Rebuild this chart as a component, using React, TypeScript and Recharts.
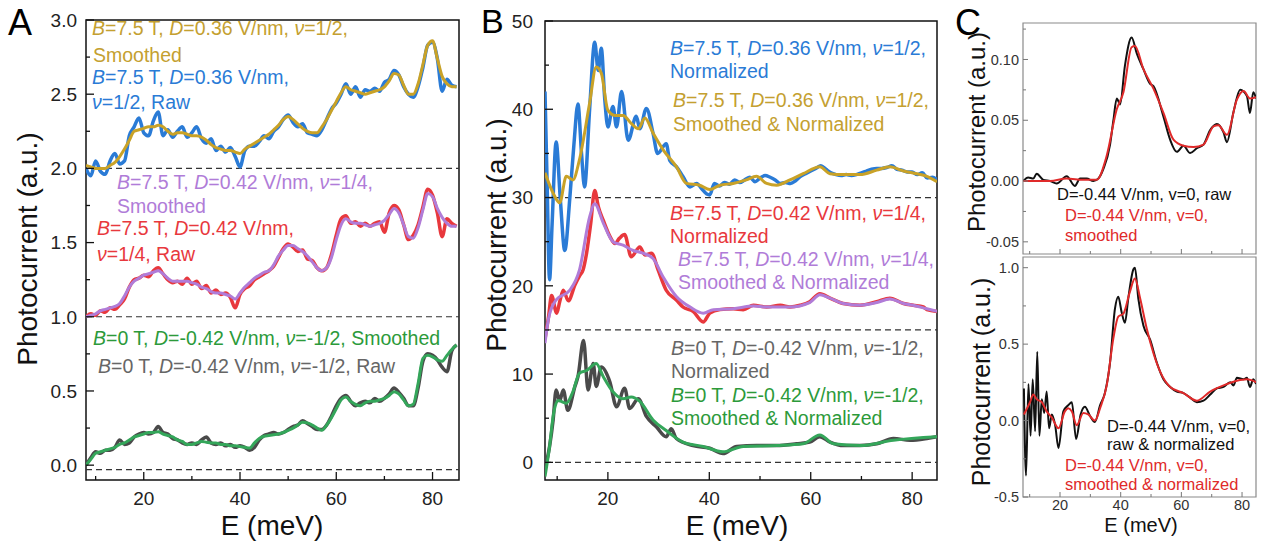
import React from 'react';
import { LineChart, Line, XAxis, YAxis, ReferenceLine, ReferenceArea } from 'recharts';

const FONT = '"Liberation Sans", Arial, Helvetica, sans-serif';

// ---------------- Panel A data ----------------
const A_E = [8,9,10,11,12,13,14,15,16,17,18,19,20,21,22,23,24,25,26,27,28,29,30,31,32,33,34,35,36,37,38,39,40,41,42,43,44,45,46,47,48,49,50,51,52,53,54,55,56,57,58,59,60,61,62,63,64,65,66,67,68,69,70,71,72,73,74,75,76,77,78,79,80,81,82,83,84,85];
const A_BLUE_RAW = [2.00,1.95,2.05,1.98,1.96,2.05,2.10,2.03,2.05,2.22,2.28,2.34,2.24,2.22,2.32,2.38,2.22,2.26,2.21,2.25,2.28,2.21,2.24,2.28,2.20,2.17,2.20,2.12,2.15,2.11,2.14,2.08,2.01,2.12,2.15,2.15,2.18,2.22,2.20,2.25,2.28,2.33,2.36,2.31,2.28,2.30,2.24,2.23,2.22,2.26,2.33,2.40,2.44,2.50,2.57,2.50,2.55,2.48,2.53,2.52,2.54,2.52,2.58,2.60,2.66,2.63,2.55,2.50,2.48,2.55,2.68,2.83,2.85,2.74,2.52,2.60,2.56,2.55];
const A_GOLD_SM = [2.02,2.01,2.00,2.00,2.00,2.02,2.04,2.08,2.13,2.19,2.25,2.26,2.27,2.28,2.28,2.29,2.28,2.25,2.23,2.24,2.24,2.23,2.22,2.22,2.21,2.19,2.16,2.14,2.13,2.12,2.12,2.11,2.10,2.13,2.15,2.17,2.19,2.21,2.23,2.26,2.29,2.33,2.35,2.33,2.30,2.27,2.25,2.24,2.24,2.28,2.33,2.39,2.45,2.51,2.55,2.53,2.52,2.51,2.50,2.51,2.52,2.53,2.55,2.59,2.64,2.63,2.56,2.50,2.50,2.57,2.70,2.83,2.86,2.74,2.62,2.57,2.55,2.55];
const A_RED_RAW = [1.00,1.02,1.01,1.04,1.03,1.06,1.05,1.08,1.12,1.20,1.25,1.26,1.28,1.27,1.31,1.33,1.29,1.25,1.23,1.24,1.22,1.26,1.22,1.24,1.19,1.21,1.16,1.18,1.15,1.16,1.13,1.06,1.15,1.19,1.21,1.25,1.27,1.29,1.31,1.34,1.40,1.46,1.49,1.47,1.44,1.45,1.39,1.38,1.33,1.31,1.33,1.42,1.55,1.66,1.68,1.63,1.64,1.61,1.63,1.61,1.63,1.64,1.57,1.70,1.75,1.72,1.62,1.52,1.55,1.62,1.74,1.86,1.82,1.70,1.54,1.66,1.63,1.61];
const A_PURPLE_SM = [1.00,1.01,1.02,1.04,1.05,1.06,1.07,1.09,1.14,1.20,1.24,1.26,1.28,1.29,1.30,1.31,1.29,1.26,1.24,1.24,1.24,1.24,1.23,1.22,1.20,1.19,1.17,1.16,1.16,1.15,1.14,1.12,1.16,1.20,1.23,1.26,1.28,1.30,1.31,1.35,1.41,1.45,1.48,1.48,1.46,1.44,1.41,1.37,1.33,1.31,1.33,1.40,1.52,1.62,1.66,1.64,1.63,1.63,1.62,1.61,1.62,1.63,1.65,1.69,1.73,1.70,1.62,1.54,1.53,1.60,1.72,1.83,1.81,1.73,1.67,1.63,1.61,1.61];
const A_GRAY_RAW = [0.00,0.05,0.09,0.08,0.10,0.10,0.12,0.17,0.14,0.15,0.19,0.21,0.22,0.21,0.22,0.26,0.22,0.21,0.18,0.17,0.15,0.14,0.15,0.14,0.17,0.19,0.15,0.14,0.15,0.13,0.14,0.12,0.13,0.12,0.10,0.12,0.17,0.20,0.21,0.22,0.21,0.22,0.24,0.26,0.27,0.30,0.28,0.26,0.24,0.24,0.27,0.33,0.40,0.45,0.47,0.43,0.40,0.42,0.43,0.42,0.45,0.43,0.45,0.48,0.52,0.49,0.45,0.40,0.40,0.52,0.70,0.75,0.74,0.71,0.66,0.63,0.77,0.81];
const A_GREEN_SM = [0.00,0.04,0.08,0.09,0.10,0.11,0.12,0.14,0.15,0.17,0.19,0.20,0.21,0.22,0.22,0.225,0.21,0.20,0.19,0.17,0.16,0.14,0.14,0.15,0.16,0.155,0.15,0.15,0.14,0.14,0.13,0.13,0.125,0.12,0.115,0.15,0.18,0.195,0.20,0.205,0.21,0.22,0.235,0.25,0.27,0.29,0.285,0.27,0.25,0.235,0.27,0.32,0.38,0.44,0.46,0.43,0.41,0.40,0.42,0.43,0.43,0.44,0.45,0.47,0.495,0.48,0.44,0.40,0.41,0.55,0.72,0.74,0.73,0.71,0.70,0.74,0.78,0.81];
const A_BASELINES = [2.0, 1.0, -0.03];

// ---------------- Panel B data ----------------
const B_BLUE_E = [7.6,8.0,8.5,9.0,9.8,10.6,11.5,12.5,13.3,14.1,14.8,15.4,16.4,17.4,18.1,18.7,19.4,20.0,21.0,21.7,22.7,24.0,25.6,26.3,27.6,28.9,29.8,31.5,32.2,33.5,34.8,36.2,37.5,38.5,39.5,40.1,41,42,43,44,45,46,47,48,49,50,51,52,53,54,55,56,57,58,59,60,61,62,63,64,65,66,67,68,69,70,71,72,73,74,75,76,77,78,79,80,81,82,83,84,84.9];
const B_BLUE = [42,32,20.7,27,36.3,30,24.0,30,36,40.6,35,31.2,40,47.6,44.4,46.9,41,38.0,40.3,38.0,42.0,36.5,39.2,37.8,40.1,37.3,35,36.1,34.2,33.5,32.4,31.2,31.6,31.0,30.4,30.3,31.6,31.3,31.7,31.5,32.0,31.7,32.0,32.3,31.8,32.2,32.5,32.3,32.0,31.6,31.7,31.6,31.9,32.4,32.7,33.0,33.3,33.6,33.2,32.8,32.6,32.5,32.6,32.5,32.6,32.8,33.0,33.2,33.3,33.3,33.4,33.6,33.2,33.1,32.9,32.9,32.6,32.8,32.2,32.3,32.0];
const B_GOLD_E = [7.6,9.2,10.5,11.8,13.1,14.4,16.4,17.7,18.7,20.0,21.4,23.0,24.6,26.0,27.3,28.9,30.9,33.5,35.5,38.1,40.1,42.1,44.7,47.3,49.3,51.3,53.3,55.9,58.5,61.8,63.8,66.4,69.7,73.0,75.6,78.3,80.9,82.9,84.9];
const B_GOLD = [32.8,30.5,29.4,32.4,32.0,34.3,40.7,44.8,44.1,39.9,39.3,39.3,38.4,37.8,39.0,37.3,35.4,33.5,31.6,31.4,30.9,31.4,31.6,32.0,32.4,31.6,31.4,32.0,32.7,33.5,32.7,32.6,32.6,33.1,33.5,33.0,32.7,32.4,31.8];
const B_RED_E = [7.6,8.3,8.9,9.9,10.5,11.2,12.2,13.5,14.5,15.1,15.8,16.6,17.4,18.1,19.1,20.4,21.4,22.3,23.3,24.6,26.3,27.3,28.6,29.9,31.5,33.5,34.8,36.8,38.8,40.1,42.1,44.7,46.7,48.7,51.3,54.0,55.9,57.9,59.8,61.8,63.8,66.4,69.7,73.0,75.6,78.3,80.2,82.2,82.9,84.9];
const B_RED = [14.0,16.5,18.9,16.9,18.2,19.5,18.3,20.1,21.2,21.8,23.7,27.0,30.8,29.0,27.4,25.6,24.8,25.4,25.8,23.3,24.4,23.5,23.7,21.8,19.5,18.4,17.6,17.1,15.9,16.9,17.3,17.4,17.3,17.8,17.6,17.8,17.6,17.8,18.2,19.1,18.6,18.0,17.8,18.2,18.6,18.0,17.8,17.6,17.3,17.1];
const B_PURPLE_E = [7.6,8.3,9.8,12.5,14.4,16.4,17.4,19.1,21.0,23.0,25.0,26.9,28.9,30.9,33.5,36.2,38.8,40.8,44.7,48.7,51.3,55.9,59.8,61.8,63.8,66.4,69.7,73.0,75.6,78.3,80.2,82.9,84.9];
const B_PURPLE = [13.5,16.3,18.4,19.5,21.8,27.8,29.3,27.1,25.0,24.6,24.0,23.7,23.1,21.0,18.8,17.6,16.9,17.3,17.4,17.7,17.6,17.6,18.1,19.0,18.6,18.0,17.8,18.1,18.5,18.0,17.8,17.4,17.1];
const B_GRAY_E = [7.9,8.5,9.2,9.8,10.5,11.2,12.1,13.5,14.1,15.2,16.1,17.1,17.7,18.7,20.4,21.7,23.3,24.3,26.0,27.6,29.6,31.5,32.5,33.5,36.8,40.1,42.7,45.4,49.3,53.3,57.2,59.8,61.8,63.8,66.4,69.7,73.0,76.3,79.6,82.9,84.9];
const B_GRAY = [0,1.8,4.8,8.2,7.0,8.2,5.9,8.6,9.7,13.8,8.2,11.2,8.6,10.8,9.1,6.3,8.4,6.1,7.2,5.2,4.0,2.9,3.8,2.7,1.9,1.6,1.0,1.8,1.9,1.9,2.1,2.3,2.9,2.3,1.9,1.9,2.1,2.7,2.5,2.7,2.9];
const B_GREEN_E = [7.6,8.5,9.2,10.2,11.8,13.1,14.4,15.8,17.7,19.1,21.0,23.0,24.6,26.3,28.9,31.5,34.8,38.8,42.7,46.7,53.3,58.5,61.8,64.5,69.7,76.3,84.9];
const B_GREEN = [-1.6,1.8,5.2,7.0,6.7,8.0,10.1,10.4,11.2,9.7,8.0,7.2,7.4,6.9,4.8,3.6,2.3,1.8,1.2,1.8,1.9,2.1,3.1,2.1,1.9,2.5,2.9];
const B_BASELINES = [30, 15, 0];

// ---------------- Panel C data ----------------
const CT_RAW_E = [7.9,9.5,11.2,12.3,14.5,16.7,18.9,22.2,24.9,26.6,28.8,31.0,32.6,34.3,36.5,37.6,38.7,39.8,41.4,43.6,45.3,47.5,49.7,50.8,54.1,56.3,58.5,60.7,62.9,65.1,67.3,69.5,71.7,73.9,75.0,77.2,79.4,81.6,82.6,83.7,84.6];
const CT_RAW = [0.000,0.003,0.002,0.006,0.001,0.000,-0.002,0.004,-0.004,0.002,0.002,0.000,0.002,0.010,0.030,0.050,0.068,0.063,0.095,0.118,0.105,0.092,0.080,0.078,0.053,0.034,0.024,0.029,0.023,0.027,0.030,0.042,0.047,0.040,0.032,0.057,0.075,0.070,0.056,0.073,0.068];
const CT_SM_E = [7.9,16.7,22.2,27.7,32.1,35.4,38.7,40.9,43.6,44.7,47.5,50.8,54.1,57.4,60.7,64.0,67.3,70.6,72.2,75.0,78.3,80.5,82.6,84.6];
const CT_SM = [0.000,0.000,0.002,0.001,0.001,0.021,0.059,0.073,0.110,0.111,0.092,0.076,0.056,0.034,0.029,0.028,0.030,0.045,0.046,0.038,0.067,0.074,0.068,0.069];
const CB_RAW_E = [8.1,8.8,9.6,10.3,11.0,11.8,12.5,13.2,14.0,14.8,15.6,16.4,17.3,18.4,19.5,21.1,22.7,23.9,25.3,26.8,28.2,29.9,31.5,33.2,34.8,36.5,38.1,39.2,40.3,41.4,42.5,44.2,44.7,45.8,47.5,49.7,51.9,54.1,56.3,58.5,60.7,62.9,65.1,67.3,69.5,71.7,73.9,76.1,77.2,78.3,80.5,81.6,82.6,83.7,84.6];
const CB_RAW = [0.21,-0.36,0.24,-0.10,0.27,-0.07,0.45,-0.10,0.14,0.05,0.19,-0.05,0.04,-0.03,-0.18,0.06,0.10,0.12,-0.12,0.04,0.09,0.03,-0.01,0.10,0.18,0.38,0.73,0.81,0.71,0.64,0.80,0.99,1.00,0.80,0.62,0.53,0.38,0.27,0.22,0.19,0.18,0.15,0.12,0.13,0.17,0.21,0.22,0.25,0.23,0.28,0.27,0.28,0.22,0.27,0.24];
const CB_SM_E = [8.1,10.1,11.2,12.3,14.0,15.6,17.3,19.5,21.6,22.7,23.9,25.5,27.7,29.3,31.5,33.2,35.4,37.6,39.2,40.9,43.0,44.7,46.4,48.6,50.8,53.0,56.3,60.7,65.1,69.5,73.9,78.3,81.6,84.8];
const CB_SM = [0.04,0.12,0.17,0.14,0.12,0.06,0.02,-0.05,0.06,0.08,0.06,-0.03,0.05,0.04,0.00,0.08,0.23,0.54,0.68,0.70,0.84,0.93,0.80,0.60,0.44,0.32,0.22,0.18,0.13,0.19,0.23,0.26,0.27,0.25];

// ---------------- ticks ----------------
const E_TICKS = [10,20,30,40,50,60,70,80];
const E_MAJOR = [20,40,60,80];
const E_LABELS = ['20','40','60','80'];
const A_Y_TICKS = [0,0.25,0.5,0.75,1,1.25,1.5,1.75,2,2.25,2.5,2.75,3];
const A_Y_MAJOR = [0,0.5,1,1.5,2,2.5,3];
const A_Y_LABELS = ['0.0','0.5','1.0','1.5','2.0','2.5','3.0'];
const B_Y_TICKS = [0,5,10,15,20,25,30,35,40,45,50];
const B_Y_MAJOR = [0,10,20,30,40,50];
const B_Y_LABELS = ['0','10','20','30','40','50'];
const CT_Y_TICKS = [-0.05,-0.025,0,0.025,0.05,0.075,0.1,0.125];
const CT_Y_MAJOR = [-0.05,0,0.05,0.1];
const CT_Y_LABELS = ['-0.05','0.00','0.05','0.10'];
const CB_Y_TICKS = [-0.5,-0.25,0,0.25,0.5,0.75,1];
const CB_Y_MAJOR = [-0.5,0,0.5,1];
const CB_Y_LABELS = ['-0.5','0.0','0.5','1.0'];

// ---------------- colors ----------------
const BLUE = '#2a7bd6';
const GOLD = '#c9a227';
const RED = '#e8383d';
const PURPLE = '#b07cd8';
const GREEN = '#34a65a';
const GREEN_T = '#2c9a3a';
const GRAY = '#4a4a4a';
const GRAY_T = '#666666';
const GOLD_T = '#c4a030';

const zip = (xs: number[], ys: number[]) => xs.map((e, i) => ({ e, v: ys[i] }));

type TickCfg = {
  margin: number; majorLen: number; minorLen: number; fontSize: number;
  tickColor: string; textColor: string; showLabels: boolean; tickWidth: number;
};

function makeTick(kind: 'x' | 'y', major: number[], labels: string[], cfg: TickCfg) {
  return (props: any) => {
    const { x, y, payload } = props;
    const val = Number(payload.value);
    const idx = major.findIndex((m) => Math.abs(m - val) < 1e-9);
    const isMajor = idx >= 0;
    const len = isMajor ? cfg.majorLen : cfg.minorLen;
    if (kind === 'y') {
      const x0 = x + cfg.margin;
      return (
        <g>
          <line x1={x0} y1={y} x2={x0 + len} y2={y} stroke={cfg.tickColor} strokeWidth={cfg.tickWidth} />
          {isMajor && cfg.showLabels ? (
            <text x={x} y={y} dy="0.36em" textAnchor="end" fontSize={cfg.fontSize} fontFamily={FONT} fill={cfg.textColor}>
              {labels[idx]}
            </text>
          ) : null}
        </g>
      );
    }
    const y0 = y - cfg.margin;
    return (
      <g>
        <line x1={x} y1={y0} x2={x} y2={y0 - len} stroke={cfg.tickColor} strokeWidth={cfg.tickWidth} />
        {isMajor && cfg.showLabels ? (
          <text x={x} y={y} dy="0.72em" textAnchor="middle" fontSize={cfg.fontSize} fontFamily={FONT} fill={cfg.textColor}>
            {labels[idx]}
          </text>
        ) : null}
      </g>
    );
  };
}

type Series = { data: { e: number; v: number }[]; color: string; width: number };

type PanelProps = {
  left: number; top: number; width: number; height: number;
  margin: { top: number; right: number; bottom: number; left: number };
  yAxisWidth: number; xAxisHeight: number;
  xDomain: [number, number]; yDomain: [number, number];
  yTicks: number[]; yMajor: number[]; yLabels: string[];
  xLabelsShown: boolean;
  series: Series[]; baselines: number[];
  frameColor: string; frameWidth: number;
  xCfg: TickCfg; yCfg: TickCfg;
};

function Panel(p: PanelProps) {
  return (
    <div style={{ position: 'absolute', left: p.left, top: p.top }}>
      <LineChart width={p.width} height={p.height} margin={p.margin}>
        <XAxis
          type="number" dataKey="e" domain={p.xDomain} allowDataOverflow
          ticks={E_TICKS} interval={0} tickSize={0} tickMargin={p.xCfg.margin}
          axisLine={false} tickLine={false} height={p.xAxisHeight}
          tick={makeTick('x', E_MAJOR, E_LABELS, { ...p.xCfg, showLabels: p.xLabelsShown })}
        />
        <YAxis
          type="number" dataKey="v" domain={p.yDomain} allowDataOverflow
          ticks={p.yTicks} interval={0} tickSize={0} tickMargin={p.yCfg.margin}
          axisLine={false} tickLine={false} width={p.yAxisWidth}
          tick={makeTick('y', p.yMajor, p.yLabels, p.yCfg)}
        />
        {p.baselines.map((b, i) => (
          <ReferenceLine key={'b' + i} y={b} stroke="#333" strokeDasharray="6 4" strokeWidth={1.2} />
        ))}
        {p.series.map((s, i) => (
          <Line
            key={'s' + i} data={s.data} dataKey="v" type="monotone" stroke={s.color}
            strokeWidth={s.width} dot={false} activeDot={false} isAnimationActive={false}
          />
        ))}
        <ReferenceArea
          x1={p.xDomain[0]} x2={p.xDomain[1]} y1={p.yDomain[0]} y2={p.yDomain[1]}
          fill="none" fillOpacity={0} stroke={p.frameColor} strokeWidth={p.frameWidth} ifOverflow="visible"
        />
      </LineChart>
    </div>
  );
}

const AB_X: TickCfg = { margin: 11, majorLen: 8, minorLen: 4, fontSize: 19, tickColor: '#111', textColor: '#222', showLabels: true, tickWidth: 1.3 };
const A_Y: TickCfg = { margin: 9, majorLen: 8, minorLen: 4, fontSize: 19, tickColor: '#111', textColor: '#222', showLabels: true, tickWidth: 1.3 };
const B_Y: TickCfg = { margin: 12, majorLen: 8, minorLen: 4, fontSize: 19, tickColor: '#111', textColor: '#222', showLabels: true, tickWidth: 1.3 };
const C_X: TickCfg = { margin: 3, majorLen: 5, minorLen: 3, fontSize: 14.5, tickColor: '#777', textColor: '#333', showLabels: true, tickWidth: 1 };
const C_Y: TickCfg = { margin: 4, majorLen: 5, minorLen: 3, fontSize: 14.5, tickColor: '#777', textColor: '#333', showLabels: true, tickWidth: 1 };

type Note = { t: string; x: number; y: number; c: string };

const A_NOTES: Note[] = [
  { t: 'B=7.5 T, D=0.36 V/nm, ν=1/2,', x: 92, y: 35, c: GOLD_T },
  { t: 'Smoothed', x: 93, y: 62, c: GOLD_T },
  { t: 'B=7.5 T, D=0.36 V/nm,', x: 92, y: 84, c: BLUE },
  { t: 'ν=1/2, Raw', x: 92, y: 109, c: BLUE },
  { t: 'B=7.5 T, D=0.42 V/nm, ν=1/4,', x: 117, y: 189, c: PURPLE },
  { t: 'Smoothed', x: 117, y: 213, c: PURPLE },
  { t: 'B=7.5 T, D=0.42 V/nm,', x: 97, y: 235, c: RED },
  { t: 'ν=1/4, Raw', x: 97, y: 261, c: RED },
  { t: 'B=0 T, D=-0.42 V/nm, ν=-1/2, Smoothed', x: 93, y: 345, c: GREEN_T },
  { t: 'B=0 T, D=-0.42 V/nm, ν=-1/2, Raw', x: 98, y: 373, c: GRAY_T },
];
const B_NOTES: Note[] = [
  { t: 'B=7.5 T, D=0.36 V/nm, ν=1/2,', x: 670, y: 55, c: BLUE },
  { t: 'Normalized', x: 670, y: 78, c: BLUE },
  { t: 'B=7.5 T, D=0.36 V/nm, ν=1/2,', x: 673, y: 107, c: GOLD_T },
  { t: 'Smoothed & Normalized', x: 673, y: 131, c: GOLD_T },
  { t: 'B=7.5 T, D=0.42 V/nm, ν=1/4,', x: 670, y: 220, c: RED },
  { t: 'Normalized', x: 670, y: 243, c: RED },
  { t: 'B=7.5 T, D=0.42 V/nm, ν=1/4,', x: 678, y: 266, c: PURPLE },
  { t: 'Smoothed & Normalized', x: 678, y: 289, c: PURPLE },
  { t: 'B=0 T, D=-0.42 V/nm, ν=-1/2,', x: 671, y: 355, c: GRAY_T },
  { t: 'Normalized', x: 671, y: 378, c: GRAY_T },
  { t: 'B=0 T, D=-0.42 V/nm, ν=-1/2,', x: 671, y: 402, c: GREEN_T },
  { t: 'Smoothed & Normalized', x: 671, y: 425, c: GREEN_T },
];
const C_NOTES: Note[] = [
  { t: 'D=-0.44 V/nm, v=0, raw', x: 1057, y: 200, c: '#111' },
  { t: 'D=-0.44 V/nm, v=0,', x: 1065, y: 221, c: '#e02a2a' },
  { t: 'smoothed', x: 1065, y: 241, c: '#e02a2a' },
  { t: 'D=-0.44 V/nm, v=0,', x: 1107, y: 432, c: '#111' },
  { t: 'raw & normalized', x: 1107, y: 450, c: '#111' },
  { t: 'D=-0.44 V/nm, v=0,', x: 1065, y: 471, c: '#e02a2a' },
  { t: 'smoothed & normalized', x: 1065, y: 490, c: '#e02a2a' },
];

function NoteText({ n, size, italic }: { n: Note; size: number; italic: boolean }) {
  const parts = italic ? n.t.split(/([BDν](?==))/) : [n.t];
  return (
    <text x={n.x} y={n.y} fill={n.c} fontSize={size} fontFamily={FONT}>
      {parts.map((p, i) =>
        italic && /^[BDν]$/.test(p) ? (
          <tspan key={i} fontStyle="italic">{p}</tspan>
        ) : (
          <tspan key={i}>{p}</tspan>
        )
      )}
    </text>
  );
}

export default function App() {
  const aSeries: Series[] = [
    { data: zip(A_E, A_BLUE_RAW), color: BLUE, width: 3.5 },
    { data: zip(A_E, A_GOLD_SM), color: GOLD, width: 3 },
    { data: zip(A_E, A_RED_RAW), color: RED, width: 3.5 },
    { data: zip(A_E, A_PURPLE_SM), color: PURPLE, width: 3 },
    { data: zip(A_E, A_GRAY_RAW), color: GRAY, width: 3.5 },
    { data: zip(A_E, A_GREEN_SM), color: GREEN, width: 3 },
  ];
  const bSeries: Series[] = [
    { data: zip(B_BLUE_E, B_BLUE), color: BLUE, width: 3.5 },
    { data: zip(B_GOLD_E, B_GOLD), color: GOLD, width: 3 },
    { data: zip(B_RED_E, B_RED), color: RED, width: 3.5 },
    { data: zip(B_PURPLE_E, B_PURPLE), color: PURPLE, width: 3 },
    { data: zip(B_GRAY_E, B_GRAY), color: GRAY, width: 3.5 },
    { data: zip(B_GREEN_E, B_GREEN), color: GREEN, width: 3 },
  ];
  const ctSeries: Series[] = [
    { data: zip(CT_RAW_E, CT_RAW), color: '#111', width: 2 },
    { data: zip(CT_SM_E, CT_SM), color: '#e02a2a', width: 2 },
  ];
  const cbSeries: Series[] = [
    { data: zip(CB_RAW_E, CB_RAW), color: '#111', width: 2 },
    { data: zip(CB_SM_E, CB_SM), color: '#e02a2a', width: 2 },
  ];

  return (
    <div style={{ position: 'absolute', left: 0, top: 0, width: 1266, height: 548, background: '#fff', overflow: 'hidden' }}>
      <Panel
        left={0} top={0} width={480} height={548}
        margin={{ top: 20, right: 21, bottom: 0, left: 0 }} yAxisWidth={86} xAxisHeight={68}
        xDomain={[8, 85.5]} yDomain={[-0.1, 3.0]}
        yTicks={A_Y_TICKS} yMajor={A_Y_MAJOR} yLabels={A_Y_LABELS} xLabelsShown
        series={aSeries} baselines={A_BASELINES} frameColor="#111" frameWidth={1.5}
        xCfg={AB_X} yCfg={A_Y}
      />
      <Panel
        left={480} top={0} width={470} height={548}
        margin={{ top: 21, right: 13, bottom: 0, left: 0 }} yAxisWidth={65} xAxisHeight={68}
        xDomain={[7.6, 84.9]} yDomain={[-2, 50]}
        yTicks={B_Y_TICKS} yMajor={B_Y_MAJOR} yLabels={B_Y_LABELS} xLabelsShown
        series={bSeries} baselines={B_BASELINES} frameColor="#111" frameWidth={1.5}
        xCfg={AB_X} yCfg={B_Y}
      />
      <Panel
        left={950} top={0} width={316} height={262}
        margin={{ top: 23, right: 10, bottom: 0, left: 0 }} yAxisWidth={73} xAxisHeight={8}
        xDomain={[7.8, 84.6]} yDomain={[-0.06, 0.13]}
        yTicks={CT_Y_TICKS} yMajor={CT_Y_MAJOR} yLabels={CT_Y_LABELS} xLabelsShown={false}
        series={ctSeries} baselines={[]} frameColor="#8a8a8a" frameWidth={1.2}
        xCfg={C_X} yCfg={C_Y}
      />
      <Panel
        left={950} top={250} width={316} height={298}
        margin={{ top: 7, right: 10, bottom: 0, left: 0 }} yAxisWidth={73} xAxisHeight={51}
        xDomain={[7.8, 84.6]} yDomain={[-0.5, 1.07]}
        yTicks={CB_Y_TICKS} yMajor={CB_Y_MAJOR} yLabels={CB_Y_LABELS} xLabelsShown
        series={cbSeries} baselines={[]} frameColor="#8a8a8a" frameWidth={1.2}
        xCfg={C_X} yCfg={C_Y}
      />
      <svg width={1266} height={548} style={{ position: 'absolute', left: 0, top: 0, pointerEvents: 'none' }}>
        <text x={8} y={35} fontSize={36} fontFamily={FONT} fill="#000">A</text>
        <text x={481} y={33} fontSize={34} fontFamily={FONT} fill="#000">B</text>
        <text x={955} y={35} fontSize={36} fontFamily={FONT} fill="#000">C</text>

        <text x={37} y={249} transform="rotate(-90 37 249)" textAnchor="middle" fontSize={28} fontFamily={FONT} fill="#111">Photocurrent (a.u.)</text>
        <text x={506} y={235} transform="rotate(-90 506 235)" textAnchor="middle" fontSize={28} fontFamily={FONT} fill="#111">Photocurrent (a.u.)</text>
        <text x={985} y={132} transform="rotate(-90 985 132)" textAnchor="middle" fontSize={24} fontFamily={FONT} fill="#111">Photocurrent (a.u.)</text>
        <text x={990} y={382} transform="rotate(-90 990 382)" textAnchor="middle" fontSize={25} fontFamily={FONT} fill="#111">Photocurrent (a.u.)</text>

        <text x={272} y={535} textAnchor="middle" fontSize={28} fontFamily={FONT} fill="#111">E (meV)</text>
        <text x={737} y={535} textAnchor="middle" fontSize={28} fontFamily={FONT} fill="#111">E (meV)</text>
        <text x={1141} y={532} textAnchor="middle" fontSize={20} fontFamily={FONT} fill="#111">E (meV)</text>

        {A_NOTES.map((n, i) => <NoteText key={'a' + i} n={n} size={19.5} italic />)}
        {B_NOTES.map((n, i) => <NoteText key={'b' + i} n={n} size={19.5} italic />)}
        {C_NOTES.map((n, i) => <NoteText key={'c' + i} n={n} size={16.5} italic={false} />)}
      </svg>
    </div>
  );
}
